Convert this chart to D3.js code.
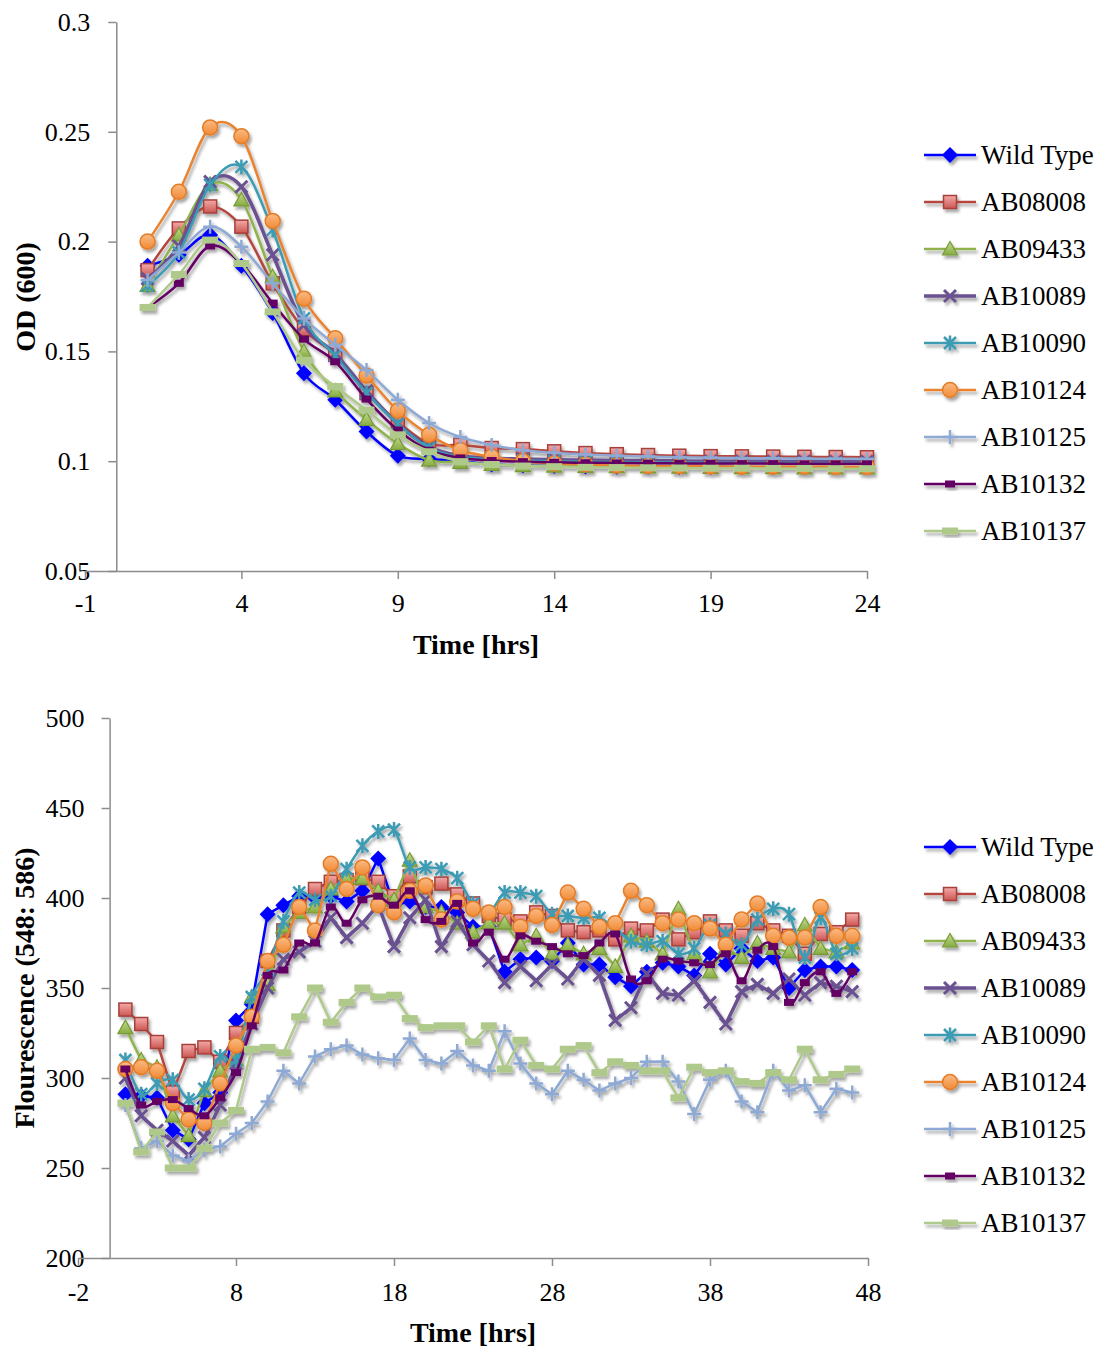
<!DOCTYPE html>
<html>
<head>
<meta charset="utf-8">
<script src="https://cdn.jsdelivr.net/npm/d3@7"></script>
<style>
	body { margin: 0; background: #fff; }
	svg text { font-family: "Liberation Serif", "DejaVu Serif", serif; fill: #000; }
	.axis path, .axis line { stroke: #8c8c8c; stroke-width: 1.5; }
	.axis text { font-size: 26px; }
	.title { font-size: 28px; font-weight: bold; }
	.legend text { font-size: 27px; }
</style>
</head>
<body>
<svg id="chart" width="1104" height="1349"></svg>
<script>
// series names / styles
var seriesNames = ["Wild Type", "AB08008", "AB09433", "AB10089", "AB10090", "AB10124", "AB10125", "AB10132", "AB10137"];

// OD(600) chart
var odTime = [1, 2, 3, 4, 5, 6, 7, 8, 9, 10, 11, 12, 13, 14, 15, 16, 17, 18, 19, 20, 21, 22, 23, 24];
var odWildType = [0.189, 0.194, 0.203, 0.189, 0.1675, 0.140, 0.128, 0.1135, 0.1025, 0.101, 0.100, 0.0985, 0.098, 0.0978, 0.0976, 0.0975, 0.0975, 0.0974, 0.0974, 0.0973, 0.0973, 0.0972, 0.0972, 0.0972];
var odAB08008 = [0.187, 0.206, 0.216, 0.2068, 0.181, 0.160, 0.1484, 0.131, 0.118, 0.108, 0.1074, 0.106, 0.1055, 0.1045, 0.1037, 0.1032, 0.1028, 0.1025, 0.1023, 0.1022, 0.1021, 0.102, 0.1019, 0.1018];
var odAB09433 = [0.180, 0.203, 0.226, 0.219, 0.184, 0.150, 0.132, 0.119, 0.108, 0.1005, 0.0995, 0.0985, 0.098, 0.0978, 0.0976, 0.0975, 0.0974, 0.0973, 0.0972, 0.0971, 0.0971, 0.097, 0.097, 0.097];
var odAB10089 = [0.183, 0.198, 0.2273, 0.225, 0.194, 0.162, 0.149, 0.132, 0.117, 0.1066, 0.1025, 0.1015, 0.101, 0.1007, 0.1005, 0.1003, 0.1002, 0.1001, 0.100, 0.100, 0.0999, 0.0999, 0.0998, 0.0998];
var odAB10090 = [0.180, 0.195, 0.2258, 0.234, 0.2053, 0.165, 0.148, 0.131, 0.117, 0.106, 0.102, 0.1008, 0.1003, 0.100, 0.0998, 0.0996, 0.0995, 0.0994, 0.0993, 0.0992, 0.0992, 0.0991, 0.0991, 0.099];
var odAB10124 = [0.200, 0.2227, 0.252, 0.248, 0.2094, 0.174, 0.156, 0.139, 0.123, 0.112, 0.105, 0.102, 0.100, 0.099, 0.0985, 0.098, 0.0978, 0.0977, 0.0976, 0.0975, 0.0975, 0.0975, 0.0974, 0.0974];
var odAB10125 = [0.1825, 0.195, 0.2068, 0.1977, 0.181, 0.165, 0.153, 0.1415, 0.128, 0.1174, 0.111, 0.1074, 0.105, 0.1038, 0.103, 0.1025, 0.1021, 0.1018, 0.1016, 0.1014, 0.1013, 0.1012, 0.1011, 0.101];
var odAB10132 = [0.170, 0.181, 0.198, 0.190, 0.172, 0.1556, 0.1453, 0.1283, 0.1142, 0.105, 0.1015, 0.1003, 0.0998, 0.0995, 0.0993, 0.0992, 0.0991, 0.099, 0.099, 0.0989, 0.0989, 0.0988, 0.0988, 0.0988];
var odAB10137 = [0.170, 0.185, 0.2007, 0.190, 0.168, 0.146, 0.134, 0.1233, 0.112, 0.1043, 0.0998, 0.0985, 0.0978, 0.0975, 0.0972, 0.0971, 0.097, 0.0969, 0.0968, 0.0968, 0.0967, 0.0967, 0.0966, 0.0966];
var odXTicks = [-1, 4, 9, 14, 19, 24];
var odYTicks = [0.05, 0.1, 0.15, 0.2, 0.25, 0.3];

// Fluorescence chart
var flTime = [1, 2, 3, 4, 5, 6, 7, 8, 9, 10, 11, 12, 13, 14, 15, 16, 17, 18, 19, 20, 21, 22, 23, 24,
	25, 26, 27, 28, 29, 30, 31, 32, 33, 34, 35, 36, 37, 38, 39, 40, 41, 42, 43, 44, 45, 46, 47];
var flWildType = [291, 290, 289, 271, 266, 286, 292, 332, 341, 391, 396, 401, 400, 401, 398, 404, 422, 396, 398, 395, 395, 392, 384, 384,
	359, 366, 367, 365, 375, 363, 363, 356, 351, 359, 364, 362, 357, 369, 363, 372, 365, 367, 350, 360, 362, 362, 360];
var flAB08008 = [338, 330, 320, 292, 315, 317, 309, 325, 334, 365, 382, 395, 405, 409, 410, 411, 409, 401, 412, 406, 408, 402, 397, 390,
	388, 387, 392, 390, 382, 381, 382, 377, 383, 382, 388, 377, 381, 387, 382, 379, 386, 382, 379, 369, 380, 381, 388];
var flAB09433 = [328, 310, 306, 279, 268, 293, 304, 310, 345, 352, 384, 392, 395, 405, 411, 411, 404, 399, 421, 395, 392, 386, 381, 386,
	386, 374, 379, 369, 374, 369, 372, 362, 379, 376, 369, 394, 369, 359, 372, 367, 375, 372, 370, 385, 372, 370, 375];
var flAB10089 = [300, 279, 271, 265, 257, 267, 285, 308, 330, 350, 366, 370, 376, 389, 378, 386, 396, 373, 389, 399, 373, 387, 374, 365,
	353, 362, 354, 363, 355, 366, 357, 332, 339, 358, 347, 346, 354, 342, 330, 348, 352, 347, 355, 346, 353, 351, 348];
var flAB10090 = [310, 291, 297, 299, 288, 294, 312, 310, 345, 360, 387, 403, 399, 401, 416, 429, 437, 438, 417, 417, 416, 411, 397, 392,
	403, 403, 401, 391, 390, 389, 389, 383, 376, 374, 376, 369, 372, 385, 380, 374, 388, 394, 391, 367, 389, 369, 372];
var flAB10124 = [305, 306, 304, 286, 277, 275, 297, 318, 334, 365, 374, 395, 382, 419, 405, 417, 396, 392, 404, 407, 388, 398, 394, 392,
	395, 384, 390, 385, 403, 394, 384, 386, 404, 396, 386, 388, 386, 383, 374, 388, 397, 379, 378, 378, 395, 379, 379];
var flAB10125 = [285, 261, 265, 257, 254, 260, 262, 269, 275, 287, 304, 297, 312, 316, 318, 313, 311, 310, 322, 310, 308, 315, 307, 304,
	326, 308, 297, 291, 304, 299, 293, 297, 300, 309, 309, 298, 280, 299, 304, 287, 281, 304, 293, 296, 281, 294, 292];
var flAB10132 = [305, 285, 287, 288, 283, 279, 289, 303, 329, 357, 360, 375, 375, 395, 386, 399, 401, 396, 404, 388, 387, 397, 375, 381,
	366, 379, 376, 373, 369, 368, 375, 380, 355, 354, 366, 365, 364, 363, 369, 354, 371, 373, 342, 353, 359, 347, 359];
var flAB10137 = [286, 259, 270, 250, 250, 261, 275, 282, 316, 317, 314, 334, 350, 331, 342, 350, 345, 346, 333, 328, 329, 329, 320, 329,
	305, 321, 307, 305, 316, 318, 303, 309, 307, 304, 304, 289, 306, 303, 304, 298, 297, 303, 299, 316, 299, 302, 305];
var flXTicks = [-2, 8, 18, 28, 38, 48];
var flYTicks = [200, 250, 300, 350, 400, 450, 500];

var odValues = [odWildType, odAB08008, odAB09433, odAB10089, odAB10090, odAB10124, odAB10125, odAB10132, odAB10137];
var flValues = [flWildType, flAB08008, flAB09433, flAB10089, flAB10090, flAB10124, flAB10125, flAB10132, flAB10137];

// per-series look: line colour, width, marker kind
var styles = [
	{ color: "#0000ff", width: 2.5, marker: "diamond" },
	{ color: "#b3463f", width: 2.5, marker: "square" },
	{ color: "#8fb24e", width: 2.5, marker: "triangle" },
	{ color: "#6a5190", width: 3.5, marker: "cross" },
	{ color: "#3c9bb3", width: 2.5, marker: "star" },
	{ color: "#e98330", width: 2.5, marker: "circle" },
	{ color: "#8ea9d3", width: 2.5, marker: "plus" },
	{ color: "#640064", width: 2.5, marker: "dash" },
	{ color: "#afc98b", width: 2.5, marker: "bar" }
];

var svg = d3.select("#chart");
var defs = svg.append("defs");

var shadow = defs.append("filter").attr("id", "shadow")
	.attr("x", "-50%").attr("y", "-50%").attr("width", "200%").attr("height", "200%");
shadow.append("feDropShadow").attr("dx", 2).attr("dy", 3).attr("stdDeviation", 1.8)
	.attr("flood-color", "#000").attr("flood-opacity", 0.35);

function gradient(id, top, bottom) {
	var g = defs.append("linearGradient").attr("id", id)
		.attr("x1", 0).attr("y1", 0).attr("x2", 0).attr("y2", 1);
	g.append("stop").attr("offset", "0%").attr("stop-color", top);
	g.append("stop").attr("offset", "100%").attr("stop-color", bottom);
}
gradient("gSquare", "#f4aaa8", "#cc5652");
gradient("gTri", "#c3dc8c", "#86ab42");
gradient("gCircle", "#fbbb84", "#f08a35");

function drawMarker(g, kind, x, y) {
	var m = g.append("g").attr("transform", "translate(" + x + "," + y + ")");
	switch (kind) {
		case "diamond":
			m.append("path").attr("d", "M0,-8L8,0L0,8L-8,0Z").attr("fill", "#0000ff");
			break;
		case "square":
			m.append("rect").attr("x", -6.5).attr("y", -6.5).attr("width", 13).attr("height", 13)
				.attr("fill", "url(#gSquare)").attr("stroke", "#a63f3b").attr("stroke-width", 1.5);
			break;
		case "triangle":
			m.append("path").attr("d", "M0,-7.5L7.5,6L-7.5,6Z")
				.attr("fill", "url(#gTri)").attr("stroke", "#779a37").attr("stroke-width", 1.2);
			break;
		case "cross":
			m.append("path").attr("d", "M-6,-6L6,6M-6,6L6,-6")
				.attr("stroke", "#6a5190").attr("stroke-width", 3);
			break;
		case "star":
			m.append("path").attr("d", "M-6,-6L6,6M-6,6L6,-6M0,-7.5L0,7.5")
				.attr("stroke", "#3c9bb3").attr("stroke-width", 2.5);
			break;
		case "circle":
			m.append("circle").attr("r", 7.5)
				.attr("fill", "url(#gCircle)").attr("stroke", "#e37c28").attr("stroke-width", 1.5);
			break;
		case "plus":
			m.append("path").attr("d", "M-7,0L7,0M0,-7L0,7")
				.attr("stroke", "#8ea9d3").attr("stroke-width", 2.5);
			break;
		case "dash":
			m.append("rect").attr("x", -5).attr("y", -3.5).attr("width", 10).attr("height", 7).attr("fill", "#640064");
			break;
		case "bar":
			m.append("rect").attr("x", -8).attr("y", -3.5).attr("width", 16).attr("height", 7).attr("fill", "#afc98b");
			break;
	}
}

function drawChart(cfg) {
	var x = cfg.x, y = cfg.y;
	var root = svg.append("g");

	// axes (y axis crosses at x = 0)
	root.append("g").attr("class", "axis")
		.attr("transform", "translate(" + x(0) + ",0)")
		.call(d3.axisLeft(y).tickValues(cfg.yTicks).tickSize(8).tickSizeOuter(0).tickPadding(cfg.yPad).tickFormat(String));
	root.append("g").attr("class", "axis")
		.attr("transform", "translate(0," + y.range()[0] + ")")
		.call(d3.axisBottom(x).tickValues(cfg.xTicks).tickSize(8).tickSizeOuter(0).tickPadding(cfg.xPad).tickFormat(String));
	root.selectAll(".axis").attr("font-family", null).attr("font-size", null);
	root.selectAll(".axis .tick line").attr("stroke", "#8c8c8c");

	// series
	var plot = root.append("g").attr("filter", "url(#shadow)");
	cfg.values.forEach(function(vals, i) {
		var st = styles[i];
		var pts = cfg.time.map(function(t, j) { return [x(t), y(vals[j])]; });
		var curve = cfg.smooth[i] ? d3.curveCardinal.tension(0) : d3.curveLinear;
		var line = d3.line().curve(curve);
		var sg = plot.append("g");
		sg.append("path").attr("d", line(pts)).attr("fill", "none")
			.attr("stroke", st.color).attr("stroke-width", st.width).attr("stroke-linejoin", "round");
		pts.forEach(function(p) { drawMarker(sg, st.marker, p[0], p[1]); });
	});

	// axis titles
	root.append("text").attr("class", "title").attr("text-anchor", "middle")
		.attr("x", cfg.xTitle[0]).attr("y", cfg.xTitle[1]).text("Time [hrs]");
	root.append("text").attr("class", "title").attr("text-anchor", "middle")
		.attr("transform", "translate(" + cfg.yTitle[0] + "," + cfg.yTitle[1] + ") rotate(-90)")
		.text(cfg.yLabel);

	// legend
	var lg = root.append("g").attr("class", "legend");
	seriesNames.forEach(function(name, i) {
		var ly = cfg.legendTop + i * 47;
		var st = styles[i];
		var item = lg.append("g").attr("filter", "url(#shadow)");
		item.append("line").attr("x1", 924).attr("x2", 976).attr("y1", ly).attr("y2", ly)
			.attr("stroke", st.color).attr("stroke-width", st.width);
		drawMarker(item, st.marker, 950, ly);
		lg.append("text").attr("x", 981).attr("y", ly + 9).text(name);
	});
}

var allSmooth = [true, true, true, true, true, true, true, true, true];
drawChart({
	x: d3.scaleLinear().domain([-1, 24]).range([85, 867]),
	y: d3.scaleLinear().domain([0.05, 0.3]).range([571, 22]),
	time: odTime, values: odValues, smooth: allSmooth,
	xTicks: odXTicks, yTicks: odYTicks, xPad: 15, yPad: 18,
	xTitle: [476, 654], yTitle: [35, 297], yLabel: "OD (600)",
	legendTop: 155
});

drawChart({
	x: d3.scaleLinear().domain([-2, 48]).range([78, 868]),
	y: d3.scaleLinear().domain([200, 500]).range([1258, 718]),
	time: flTime, values: flValues, smooth: [false, false, false, false, true, false, false, true, false],
	xTicks: flXTicks, yTicks: flYTicks, xPad: 17, yPad: 17,
	xTitle: [473, 1342], yTitle: [34, 988], yLabel: "Flourescence (548: 586)",
	legendTop: 847
});
</script>
</body>
</html>
